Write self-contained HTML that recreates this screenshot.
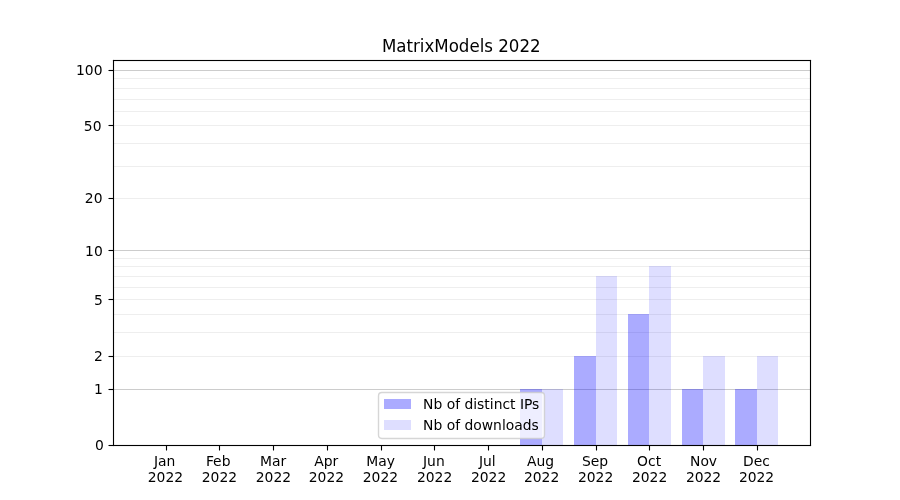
<!DOCTYPE html>
<html lang="en"><head><meta charset="utf-8"><title>MatrixModels 2022</title>
<style>html,body{margin:0;padding:0;background:#fff;}body{width:900px;height:500px;overflow:hidden;}svg{display:block;}text{font-family:"DejaVu Sans", "Liberation Sans", sans-serif;fill:#000;}.t{font-size:13.889px;}.ti{font-size:16.667px;}</style></head><body>
<svg width="900" height="500" viewBox="0 0 900 500">
<rect x="0" y="0" width="900" height="500" fill="#ffffff"/>
<g stroke-width="1.111" fill="none">
<line x1="113" x2="810.5" y1="70.5" y2="70.5" stroke="#cccccc"/>
<line x1="113" x2="810.5" y1="250.5" y2="250.5" stroke="#cccccc"/>
<line x1="113" x2="810.5" y1="389.5" y2="389.5" stroke="#cccccc"/>
<line x1="113" x2="810.5" y1="78.5" y2="78.5" stroke="#eeeeee"/>
<line x1="113" x2="810.5" y1="88.5" y2="88.5" stroke="#eeeeee"/>
<line x1="113" x2="810.5" y1="99.5" y2="99.5" stroke="#eeeeee"/>
<line x1="113" x2="810.5" y1="111.5" y2="111.5" stroke="#eeeeee"/>
<line x1="113" x2="810.5" y1="125.5" y2="125.5" stroke="#eeeeee"/>
<line x1="113" x2="810.5" y1="143.5" y2="143.5" stroke="#eeeeee"/>
<line x1="113" x2="810.5" y1="166.5" y2="166.5" stroke="#eeeeee"/>
<line x1="113" x2="810.5" y1="198.5" y2="198.5" stroke="#eeeeee"/>
<line x1="113" x2="810.5" y1="258.5" y2="258.5" stroke="#eeeeee"/>
<line x1="113" x2="810.5" y1="266.5" y2="266.5" stroke="#eeeeee"/>
<line x1="113" x2="810.5" y1="276.5" y2="276.5" stroke="#eeeeee"/>
<line x1="113" x2="810.5" y1="287.5" y2="287.5" stroke="#eeeeee"/>
<line x1="113" x2="810.5" y1="299.5" y2="299.5" stroke="#eeeeee"/>
<line x1="113" x2="810.5" y1="314.5" y2="314.5" stroke="#eeeeee"/>
<line x1="113" x2="810.5" y1="332.5" y2="332.5" stroke="#eeeeee"/>
<line x1="113" x2="810.5" y1="356.5" y2="356.5" stroke="#eeeeee"/>
</g>
<g shape-rendering="crispEdges" fill="#0000ff">
<rect x="520" y="389" width="22" height="56" fill-opacity="0.33"/>
<rect x="574" y="356" width="22" height="89" fill-opacity="0.33"/>
<rect x="628" y="314" width="21" height="131" fill-opacity="0.33"/>
<rect x="682" y="389" width="21" height="56" fill-opacity="0.33"/>
<rect x="735" y="389" width="22" height="56" fill-opacity="0.33"/>
<rect x="542" y="389" width="21" height="56" fill-opacity="0.13"/>
<rect x="596" y="276" width="21" height="169" fill-opacity="0.13"/>
<rect x="649" y="266" width="22" height="179" fill-opacity="0.13"/>
<rect x="703" y="356" width="22" height="89" fill-opacity="0.13"/>
<rect x="757" y="356" width="21" height="89" fill-opacity="0.13"/>
</g>
<g stroke="#000" stroke-width="1.111" fill="none">
<line x1="166.5" x2="166.5" y1="445.5" y2="450.5"/>
<line x1="219.5" x2="219.5" y1="445.5" y2="450.5"/>
<line x1="273.5" x2="273.5" y1="445.5" y2="450.5"/>
<line x1="327.5" x2="327.5" y1="445.5" y2="450.5"/>
<line x1="381.5" x2="381.5" y1="445.5" y2="450.5"/>
<line x1="434.5" x2="434.5" y1="445.5" y2="450.5"/>
<line x1="488.5" x2="488.5" y1="445.5" y2="450.5"/>
<line x1="542.5" x2="542.5" y1="445.5" y2="450.5"/>
<line x1="596.5" x2="596.5" y1="445.5" y2="450.5"/>
<line x1="649.5" x2="649.5" y1="445.5" y2="450.5"/>
<line x1="703.5" x2="703.5" y1="445.5" y2="450.5"/>
<line x1="757.5" x2="757.5" y1="445.5" y2="450.5"/>
<line x1="108.5" x2="113.5" y1="445.5" y2="445.5"/>
<line x1="108.5" x2="113.5" y1="389.5" y2="389.5"/>
<line x1="108.5" x2="113.5" y1="356.5" y2="356.5"/>
<line x1="108.5" x2="113.5" y1="299.5" y2="299.5"/>
<line x1="108.5" x2="113.5" y1="250.5" y2="250.5"/>
<line x1="108.5" x2="113.5" y1="198.5" y2="198.5"/>
<line x1="108.5" x2="113.5" y1="125.5" y2="125.5"/>
<line x1="108.5" x2="113.5" y1="70.5" y2="70.5"/>
</g>
<g fill="#000"><rect x="112.944" y="59.944" width="1.111" height="386.111"/><rect x="809.944" y="59.944" width="1.111" height="386.111"/><rect x="112.944" y="59.944" width="698.111" height="1.111"/><rect x="112.944" y="444.944" width="698.111" height="1.111"/></g>
<rect x="378.5" y="392.5" width="166" height="46" rx="3.4" ry="3.4" fill="#ffffff" fill-opacity="0.8" stroke="#cccccc" stroke-opacity="0.8" stroke-width="1.389"/>
<g shape-rendering="crispEdges" fill="#0000ff"><rect x="384" y="399" width="27" height="10" fill-opacity="0.33"/><rect x="384" y="420" width="27" height="10" fill-opacity="0.13"/></g>
<text class="t" text-anchor="middle" x="164.70" y="466">Jan</text>
<text class="t" text-anchor="middle" x="165.45" y="482">2022</text>
<text class="t" text-anchor="middle" x="218.19" y="466">Feb</text>
<text class="t" text-anchor="middle" x="219.44" y="482">2022</text>
<text class="t" text-anchor="middle" x="273.17" y="466">Mar</text>
<text class="t" text-anchor="middle" x="273.42" y="482">2022</text>
<text class="t" text-anchor="middle" x="326.16" y="466">Apr</text>
<text class="t" text-anchor="middle" x="326.41" y="482">2022</text>
<text class="t" text-anchor="middle" x="380.65" y="466">May</text>
<text class="t" text-anchor="middle" x="380.40" y="482">2022</text>
<text class="t" text-anchor="middle" x="433.88" y="466">Jun</text>
<text class="t" text-anchor="middle" x="434.63" y="482">2022</text>
<text class="t" text-anchor="middle" x="487.37" y="466">Jul</text>
<text class="t" text-anchor="middle" x="488.62" y="482">2022</text>
<text class="t" text-anchor="middle" x="540.60" y="466">Aug</text>
<text class="t" text-anchor="middle" x="541.60" y="482">2022</text>
<text class="t" text-anchor="middle" x="595.09" y="466">Sep</text>
<text class="t" text-anchor="middle" x="595.59" y="482">2022</text>
<text class="t" text-anchor="middle" x="649.08" y="466">Oct</text>
<text class="t" text-anchor="middle" x="649.58" y="482">2022</text>
<text class="t" text-anchor="middle" x="703.56" y="466">Nov</text>
<text class="t" text-anchor="middle" x="703.56" y="482">2022</text>
<text class="t" text-anchor="middle" x="756.55" y="466">Dec</text>
<text class="t" text-anchor="middle" x="756.55" y="482">2022</text>
<text class="t" text-anchor="end" x="103.78" y="450">0</text>
<text class="t" text-anchor="end" x="102.78" y="394">1</text>
<text class="t" text-anchor="end" x="102.78" y="361">2</text>
<text class="t" text-anchor="end" x="102.78" y="305">5</text>
<text class="t" text-anchor="end" x="102.78" y="256">10</text>
<text class="t" text-anchor="end" x="102.53" y="203">20</text>
<text class="t" text-anchor="end" x="101.53" y="131">50</text>
<text class="t" text-anchor="end" x="102.53" y="75">100</text>
<text class="ti" text-anchor="middle" transform="translate(461.25 51.50) scale(1 1.08)">MatrixModels 2022</text>
<text class="t" text-anchor="start" x="423.07" y="409">Nb of distinct IPs</text>
<text class="t" text-anchor="start" x="423.07" y="430">Nb of downloads</text>
</svg></body></html>
